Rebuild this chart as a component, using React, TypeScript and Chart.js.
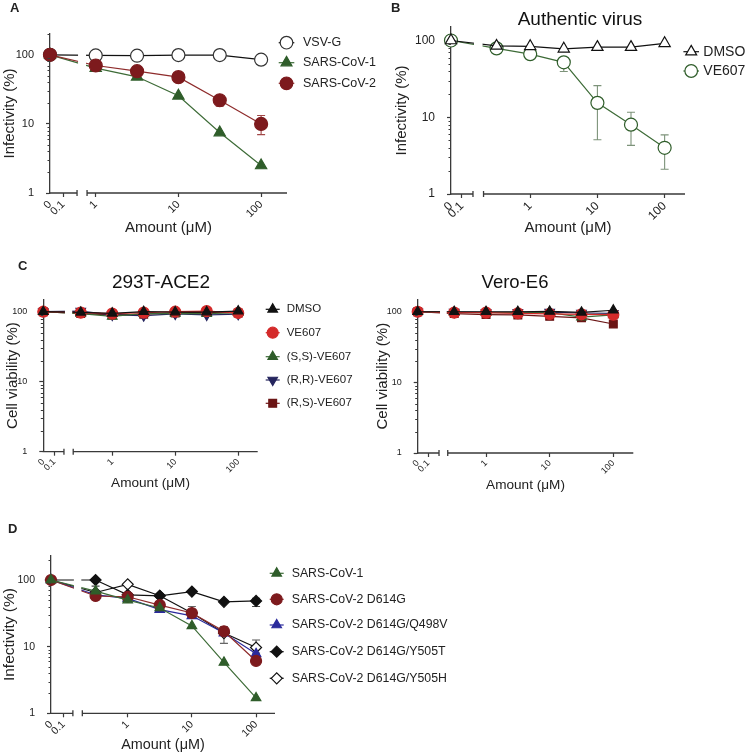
import React, { useEffect, useRef } from 'react';
import { Chart, registerables } from 'chart.js';
import { drawPoint } from 'chart.js/helpers';

Chart.register(...registerables);

const FONT = "'Liberation Sans', Arial, Helvetica, sans-serif";
const AXIS = '#3a3a3a';
const TEXT = '#222222';

// ---------- categories (concentration, µM) ----------
const CONC_A = [0, 1, 3.16, 10, 31.6, 100];
const CONC = [0, 0.316, 1, 3.16, 10, 31.6, 100];
const X_TICK_LABELS = ['0', '0.1', '1', '10', '100'];
const Y_TICKS = [1, 10, 100];

// ---------- Panel A ----------
const A_VSVG = [100, 98, 97, 99, 99, 85];
const A_COV1 = [100, 64, 48, 25.5, 7.5, 2.5];
const A_COV2 = [100, 70, 58, 47.5, 22, 10];
const A_COV2_LO = [null, null, null, null, 18, 7];
const A_COV2_HI = [null, null, null, null, 24.5, 13.2];

// ---------- Panel B ----------
const B_DMSO = [100, 85, 84, 78, 82, 82, 92];
const B_VE607 = [100, 79, 66.5, 52, 15.4, 8, 4];
const B_VE607_LO = [null, null, null, 39.5, 5.1, 4.3, 2.1];
const B_VE607_HI = [null, null, null, 60, 25.8, 11.6, 5.9];

// ---------- Panel C : 293T-ACE2 ----------
const C1_DMSO = [100, 98, 95, 100, 99, 99, 102];
const C1_VE607 = [100, 97, 94, 97, 100, 102, 96];
const C1_SS = [100, 94, 86, 95, 94, 94, 97];
const C1_RR = [100, 102, 90, 88, 93, 90, 92];
const C1_RS = [100, 94, 90, 92, 96, 98, 96];

// ---------- Panel C : Vero-E6 ----------
const C2_DMSO = [100, 100, 100, 100, 101, 98, 105];
const C2_VE607 = [100, 97, 97, 95, 93, 92, 91];
const C2_SS = [100, 98, 97, 97, 97, 84, 90];
const C2_RR = [100, 99, 98, 98, 99, 96, 95];
const C2_RS = [100, 94, 91, 90, 86, 82, 67];

// ---------- Panel D ----------
const D_COV1 = [100, 68, 50, 38, 20.5, 5.8, 1.7];
const D_D614G = [100, 57.5, 56, 42, 32, 17, 6.1];
const D_Q498V = [100, 60, 53, 36, 29, 16, 7.8];
const D_Y505T = [100, 100, 60, 58, 67, 47, 48.5];
const D_Y505H = [100, 65, 86, 58, 32, 16, 9.7];
const D_D614G_LO = [null, null, null, null, null, 11.2, null];
const D_D614G_HI = [null, null, null, null, 40, 20, null];
const D_Y505T_LO = [null, 81, null, null, null, null, 40];
const D_Y505T_HI = [null, null, null, null, null, null, 53];
const D_Y505H_LO = [null, null, null, null, null, null, 8];
const D_Y505H_HI = [null, null, null, null, null, null, 12.6];

// ---------- colours ----------
const GREEN = '#2f5d2a';
const GREEN_LINE = '#3d6b37';
const DARKRED = '#7d1a1d';
const DARKRED_LINE = '#8e2b2b';
const RED = '#d42a2a';
const NAVY = '#25255e';
const RS_RED = '#6b1515';
const BLUE = '#2b2b9c';
const BLACK = '#111111';
const WHITE = '#ffffff';

type Series = {
  label: string; values: number[]; lo?: (number | null)[]; hi?: (number | null)[];
  line: string; edge: string; fill: string; style: string; rot?: number; order: number; err?: string;
};

const SERIES_A: Series[] = [
  { label: 'VSV-G', values: A_VSVG, line: BLACK, edge: '#333', fill: WHITE, style: 'circle', order: 2 },
  { label: 'SARS-CoV-1', values: A_COV1, line: GREEN_LINE, edge: GREEN, fill: GREEN, style: 'triangle', order: 1 },
  { label: 'SARS-CoV-2', values: A_COV2, lo: A_COV2_LO, hi: A_COV2_HI, line: DARKRED_LINE, edge: DARKRED, fill: DARKRED, style: 'circle', order: 0, err: '#a24848' },
];
const SERIES_B: Series[] = [
  { label: 'DMSO', values: B_DMSO, line: BLACK, edge: BLACK, fill: WHITE, style: 'triangle', order: 0 },
  { label: 'VE607', values: B_VE607, lo: B_VE607_LO, hi: B_VE607_HI, line: GREEN_LINE, edge: GREEN, fill: WHITE, style: 'circle', order: 1, err: '#7d937a' },
];
const mkC = (d: number[], v: number[], ss: number[], rr: number[], rs: number[]): Series[] => [
  { label: 'DMSO', values: d, line: BLACK, edge: BLACK, fill: BLACK, style: 'triangle', order: 0 },
  { label: 'VE607', values: v, line: RED, edge: RED, fill: RED, style: 'circle', order: 1 },
  { label: '(S,S)-VE607', values: ss, line: GREEN_LINE, edge: GREEN, fill: GREEN, style: 'triangle', order: 2 },
  { label: '(R,R)-VE607', values: rr, line: NAVY, edge: NAVY, fill: NAVY, style: 'triangle', rot: 180, order: 3 },
  { label: '(R,S)-VE607', values: rs, line: RS_RED, edge: RS_RED, fill: RS_RED, style: 'rect', order: 4 },
];
const SERIES_C1 = mkC(C1_DMSO, C1_VE607, C1_SS, C1_RR, C1_RS);
const SERIES_C2 = mkC(C2_DMSO, C2_VE607, C2_SS, C2_RR, C2_RS);
const SERIES_D: Series[] = [
  { label: 'SARS-CoV-1', values: D_COV1, line: GREEN_LINE, edge: GREEN, fill: GREEN, style: 'triangle', order: 0 },
  { label: 'SARS-CoV-2 D614G', values: D_D614G, lo: D_D614G_LO, hi: D_D614G_HI, line: DARKRED_LINE, edge: DARKRED, fill: DARKRED, style: 'circle', order: 1, err: '#666' },
  { label: 'SARS-CoV-2 D614G/Q498V', values: D_Q498V, line: BLUE, edge: BLUE, fill: BLUE, style: 'triangle', order: 2 },
  { label: 'SARS-CoV-2 D614G/Y505T', values: D_Y505T, lo: D_Y505T_LO, hi: D_Y505T_HI, line: BLACK, edge: BLACK, fill: BLACK, style: 'rectRot', order: 3, err: '#444' },
  { label: 'SARS-CoV-2 D614G/Y505H', values: D_Y505H, lo: D_Y505H_LO, hi: D_Y505H_HI, line: BLACK, edge: BLACK, fill: WHITE, style: 'rectRot', order: 4, err: '#555' },
];

type Spec = {
  box: { left: number; top: number; width: number; height: number };
  area: { left: number; top: number; right: number; bottom: number };
  geo: { zero: number; p01: number; leftEnd: number; rightStart: number; xmax: number };
  yMax: number; conc: number[]; series: Series[]; radius: number;
  tickSize: number; yTitle: string; yTitleSize: number; yTitleX: number; xTitleSize: number; xTitleY: number;
  letter: { text: string; x: number; y: number };
  title?: { text: string; x: number; y: number; size: number };
  legend?: { mx: number; tx: number; rows: number[]; size: number; r: number };
};

const SPECS: Spec[] = [
  {
    box: { left: 0, top: 0, width: 380, height: 240 },
    area: { left: 50, top: 34, right: 287, bottom: 193 },
    geo: { zero: -0.553, p01: -0.395, leftEnd: -0.226, rightStart: -0.105, xmax: 2.313 },
    yMax: 200, conc: CONC_A, series: SERIES_A, radius: 6.5,
    tickSize: 11, yTitle: 'Infectivity (%)', yTitleSize: 15, yTitleX: 10, xTitleSize: 15, xTitleY: 228,
    letter: { text: 'A', x: 10, y: 12 },
    legend: { mx: 286.5, tx: 303, rows: [42.7, 62.7, 83.3], size: 12.5, r: 6.3 },
  },
  {
    box: { left: 380, top: 0, width: 367, height: 240 },
    area: { left: 451, top: 27, right: 685, bottom: 194 },
    geo: { zero: -1.178, p01: -1.015, leftEnd: -0.851, rightStart: -0.694, xmax: 2.303 },
    yMax: 150, conc: CONC, series: SERIES_B, radius: 6.5,
    tickSize: 12, yTitle: 'Infectivity (%)', yTitleSize: 15, yTitleX: 402, xTitleSize: 15, xTitleY: 228,
    letter: { text: 'B', x: 391, y: 12 },
    title: { text: 'Authentic virus', x: 580, y: 25, size: 19 },
    legend: { mx: 691.2, tx: 703.3, rows: [51.7, 71], size: 14, r: 6.3 },
  },
  {
    box: { left: 0, top: 255, width: 370, height: 245 },
    area: { left: 43.3, top: 299.4, right: 257.7, bottom: 451.7 },
    geo: { zero: -1.095, p01: -0.92, leftEnd: -0.767, rightStart: -0.62, xmax: 2.31 },
    yMax: 150, conc: CONC, series: SERIES_C1, radius: 5.5,
    tickSize: 9, yTitle: 'Cell viability (%)', yTitleSize: 15, yTitleX: 12.5, xTitleSize: 13.6, xTitleY: 483.3,
    letter: { text: 'C', x: 18, y: 270 },
    title: { text: '293T-ACE2', x: 161, y: 288, size: 19 },
    legend: { mx: 272.7, tx: 286.7, rows: [309.3, 332.7, 356.7, 380, 403.3], size: 11.5, r: 5.5 },
  },
  {
    box: { left: 370, top: 255, width: 377, height: 245 },
    area: { left: 417.7, top: 299.3, right: 633.3, bottom: 453 },
    geo: { zero: -1.074, p01: -0.907, leftEnd: -0.739, rightStart: -0.602, xmax: 2.314 },
    yMax: 150, conc: CONC, series: SERIES_C2, radius: 5.5,
    tickSize: 9, yTitle: 'Cell viability (%)', yTitleSize: 15, yTitleX: 382.5, xTitleSize: 13.6, xTitleY: 485,
    letter: { text: '', x: 0, y: 0 },
    title: { text: 'Vero-E6', x: 515, y: 288, size: 18.5 },
  },
  {
    box: { left: 0, top: 515, width: 747, height: 241 },
    area: { left: 51, top: 555.9, right: 275, bottom: 713.3 },
    geo: { zero: -1.195, p01: -1.0, leftEnd: -0.854, rightStart: -0.707, xmax: 2.295 },
    yMax: 230, conc: CONC, series: SERIES_D, radius: 5.5,
    tickSize: 10.5, yTitle: 'Infectivity (%)', yTitleSize: 15.5, yTitleX: 10, xTitleSize: 14.4, xTitleY: 745,
    letter: { text: 'D', x: 8, y: 533 },
    legend: { mx: 276.7, tx: 291.7, rows: [573.3, 599.3, 625, 651.7, 678.3], size: 12.3, r: 5.5 },
  },
];

function xPos(c: number, g: Spec['geo']) {
  return c === 0 ? g.zero : Math.log10(c);
}

function makePlugin(spec: Spec) {
  const L = spec.box.left;
  const T = spec.box.top;
  return {
    id: 'panelDecor',
    beforeDatasetsDraw(chart: any) {
      const ctx = chart.ctx;
      const xs = chart.scales.x;
      const ys = chart.scales.y;
      ctx.save();
      spec.series.forEach((s) => {
        if (!s.lo && !s.hi) return;
        ctx.strokeStyle = s.err || s.line;
        ctx.lineWidth = 1.1;
        spec.conc.forEach((c, i) => {
          const lo = s.lo ? s.lo[i] : null;
          const hi = s.hi ? s.hi[i] : null;
          if (lo == null && hi == null) return;
          const x = xs.getPixelForValue(xPos(c, spec.geo));
          const yv = ys.getPixelForValue(s.values[i]);
          const y1 = hi != null ? ys.getPixelForValue(hi) : yv;
          const y2 = lo != null ? ys.getPixelForValue(lo) : yv;
          ctx.beginPath();
          ctx.moveTo(x, y1); ctx.lineTo(x, y2);
          if (hi != null) { ctx.moveTo(x - 4, y1); ctx.lineTo(x + 4, y1); }
          if (lo != null) { ctx.moveTo(x - 4, y2); ctx.lineTo(x + 4, y2); }
          ctx.stroke();
        });
      });
      ctx.restore();
    },
    afterDatasetsDraw(chart: any) {
      const ctx = chart.ctx;
      const a = chart.chartArea;
      const xs = chart.scales.x;
      const ys = chart.scales.y;
      const xl = xs.getPixelForValue(spec.geo.leftEnd);
      const xr = xs.getPixelForValue(spec.geo.rightStart);
      ctx.save();
      // break gap
      ctx.fillStyle = WHITE;
      ctx.fillRect(xl + 1, a.top - 8, xr - xl - 2, a.bottom - a.top + 8);
      // x-axis segments
      ctx.strokeStyle = AXIS;
      ctx.lineWidth = 1.3;
      const y = a.bottom;
      ctx.beginPath();
      ctx.moveTo(a.left - 0.6, y); ctx.lineTo(xl, y);
      ctx.moveTo(xr, y); ctx.lineTo(a.right, y);
      ctx.moveTo(xl, y - 3); ctx.lineTo(xl, y + 3);
      ctx.moveTo(xr, y - 3); ctx.lineTo(xr, y + 3);
      ctx.stroke();
      // minor y ticks
      ctx.lineWidth = 1;
      ctx.beginPath();
      [1, 10, 100].forEach((dec) => {
        for (let k = 2; k <= 9; k++) {
          const v = dec * k;
          if (v > spec.yMax) continue;
          const py = Math.round(ys.getPixelForValue(v)) + 0.5;
          ctx.moveTo(a.left, py); ctx.lineTo(a.left - 2.5, py);
        }
      });
      ctx.stroke();
      ctx.restore();
    },
    afterDraw(chart: any) {
      const ctx = chart.ctx;
      ctx.save();
      ctx.fillStyle = TEXT;
      if (spec.letter.text) {
        ctx.font = `bold 13px ${FONT}`;
        ctx.textAlign = 'left';
        ctx.textBaseline = 'alphabetic';
        ctx.fillText(spec.letter.text, spec.letter.x - L, spec.letter.y - T);
      }
      if (spec.title) {
        ctx.font = `${spec.title.size}px ${FONT}`;
        ctx.textAlign = 'center';
        ctx.textBaseline = 'alphabetic';
        ctx.fillStyle = '#111';
        ctx.fillText(spec.title.text, spec.title.x - L, spec.title.y - T);
      }
      const lg = spec.legend;
      if (lg) {
        spec.series.forEach((s, i) => {
          const my = lg.rows[i] - T;
          const mx = lg.mx - L;
          ctx.strokeStyle = s.line;
          ctx.lineWidth = 1.2;
          ctx.beginPath();
          ctx.moveTo(mx - lg.r - 1.5, my); ctx.lineTo(mx + lg.r + 1.5, my);
          ctx.stroke();
          ctx.fillStyle = s.fill;
          ctx.strokeStyle = s.edge;
          ctx.lineWidth = 1.2;
          drawPoint(ctx, { pointStyle: s.style, rotation: s.rot || 0, radius: lg.r, borderWidth: 1.2 } as any, mx, my);
          ctx.fillStyle = TEXT;
          ctx.font = `${lg.size}px ${FONT}`;
          ctx.textAlign = 'left';
          ctx.textBaseline = 'middle';
          ctx.fillText(s.label, lg.tx - L, my);
        });
      }
      ctx.restore();
    },
  };
}

function makeConfig(spec: Spec): any {
  const b = spec.box;
  const ar = spec.area;
  const W = ar.left - b.left;
  const pt = ar.top - b.top;
  const pr = b.left + b.width - ar.right;
  const H = b.top + b.height - ar.bottom;
  const yLh = spec.yTitleSize * 1.2;
  const xLh = spec.xTitleSize * 1.2;
  const yPad = spec.yTitleX - b.left - yLh / 2;
  const xPad = b.top + b.height - spec.xTitleY - xLh / 2;
  const g = spec.geo;
  const xTickVals = [g.zero, g.p01, 0, 1, 2];
  return {
    type: 'line',
    data: {
      datasets: spec.series.map((s) => ({
        label: s.label,
        data: spec.conc.map((c, i) => ({ x: xPos(c, g), y: s.values[i] })),
        borderColor: s.line,
        backgroundColor: s.fill,
        borderWidth: 1.2,
        pointStyle: s.style,
        pointRotation: s.rot || 0,
        pointRadius: spec.radius,
        pointHoverRadius: spec.radius,
        pointBorderWidth: 1.2,
        pointBorderColor: s.edge,
        pointBackgroundColor: s.fill,
        tension: 0,
        fill: false,
        clip: false,
        order: s.order,
      })),
    },
    options: {
      responsive: false,
      animation: false,
      devicePixelRatio: 1,
      events: [],
      layout: { padding: { left: 0, top: pt, right: pr, bottom: 0 } },
      plugins: { legend: { display: false }, tooltip: { enabled: false }, title: { display: false } },
      scales: {
        x: {
          type: 'linear',
          min: g.zero,
          max: g.xmax,
          afterFit: (s: any) => { s.height = H; },
          afterBuildTicks: (s: any) => { s.ticks = xTickVals.map((v) => ({ value: v })); },
          ticks: {
            autoSkip: false, minRotation: 45, maxRotation: 45, padding: 1,
            color: TEXT, font: { family: FONT, size: spec.tickSize },
            callback: (_v: any, i: number) => X_TICK_LABELS[i],
          },
          grid: {
            drawOnChartArea: false, drawTicks: true, tickLength: 4, tickWidth: 1.2,
            tickColor: (c: any) => (c.index === 0 ? 'rgba(0,0,0,0)' : AXIS),
            color: AXIS,
          },
          border: { display: false },
          title: {
            display: true, text: 'Amount (\u03BCM)', color: TEXT,
            font: { family: FONT, size: spec.xTitleSize },
            padding: { top: 0, bottom: xPad },
          },
        },
        y: {
          type: 'logarithmic',
          min: 1,
          max: spec.yMax,
          afterFit: (s: any) => { s.width = W; },
          afterBuildTicks: (s: any) => { s.ticks = Y_TICKS.map((v) => ({ value: v, major: true })); },
          ticks: {
            autoSkip: false, padding: 12, color: TEXT,
            font: { family: FONT, size: spec.tickSize },
            callback: (v: any) => String(v),
          },
          grid: { drawOnChartArea: false, drawTicks: true, tickLength: 4, tickWidth: 1.2, tickColor: AXIS, color: AXIS },
          border: { display: true, color: AXIS, width: 1.3 },
          title: {
            display: true, text: spec.yTitle, color: TEXT,
            font: { family: FONT, size: spec.yTitleSize },
            padding: { top: yPad, bottom: 0 },
          },
        },
      },
    },
    plugins: [makePlugin(spec)],
  };
}

function Panel({ spec }: { spec: Spec }) {
  const ref = useRef<HTMLCanvasElement | null>(null);
  useEffect(() => {
    if (!ref.current) return;
    const chart = new Chart(ref.current, makeConfig(spec));
    return () => chart.destroy();
  }, [spec]);
  const b = spec.box;
  return (
    <canvas
      ref={ref}
      width={b.width}
      height={b.height}
      style={{ position: 'absolute', left: b.left, top: b.top, width: b.width, height: b.height }}
    />
  );
}

export default function App() {
  return (
    <div style={{ position: 'absolute', left: 0, top: 0, width: 747, height: 756, background: '#ffffff', overflow: 'hidden' }}>
      {SPECS.map((s, i) => (
        <Panel key={i} spec={s} />
      ))}
    </div>
  );
}
